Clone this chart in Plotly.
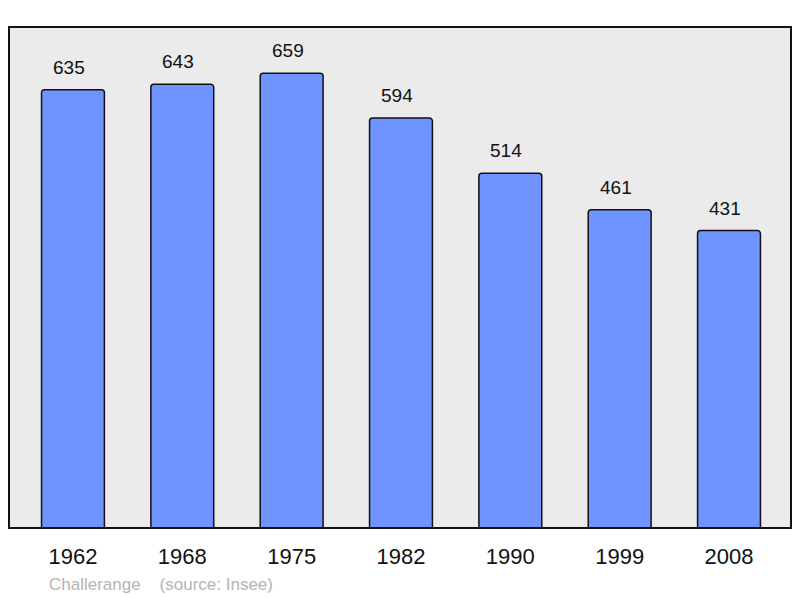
import plotly.graph_objects as go

years = ["1962", "1968", "1975", "1982", "1990", "1999", "2008"]
population = [635, 643, 659, 594, 514, 461, 431]
commune = "Challerange"
source = "(source: Insee)"

fig = go.Figure()
fig.add_trace(go.Bar(
    x=years, y=population, width=0.575,
    marker=dict(color="#7094ff", line=dict(color="#111111", width=1.5), cornerradius=3),
    hoverinfo="skip",
))

for i, v in enumerate(population):
    fig.add_annotation(x=i, y=v, text=str(v), showarrow=False, yanchor="bottom",
                       yshift=10, xshift=-4, font=dict(size=19, color="#111111"))

fig.add_annotation(xref="paper", yref="paper", x=0.049, y=-0.112, xanchor="left", yanchor="middle",
                   text=commune + "&nbsp;&nbsp;&nbsp;&nbsp;" + source, showarrow=False,
                   font=dict(size=17, color="#b4b4b4"))

fig.add_shape(type="rect", xref="paper", yref="paper", x0=0, x1=1, y0=0, y1=1,
              line=dict(color="#111111", width=2), layer="above")

fig.update_layout(
    width=800, height=598,
    margin=dict(l=9, r=9, t=27, b=70),
    paper_bgcolor="white", plot_bgcolor="#ebebeb",
    font=dict(family="Liberation Sans, Arial, sans-serif"),
    showlegend=False,
    xaxis=dict(type="category", range=[-0.585, 6.567], showgrid=False, zeroline=False, showline=False,
               ticks="outside", ticklen=9, tickcolor="rgba(0,0,0,0)",
               tickfont=dict(size=22, color="#111111")),
    yaxis=dict(range=[0, 726], showgrid=False, zeroline=False, showticklabels=False, showline=False),
)

fig.write_html("out.html", config={"displayModeBar": False},
               post_script="document.body.style.margin='0';")
